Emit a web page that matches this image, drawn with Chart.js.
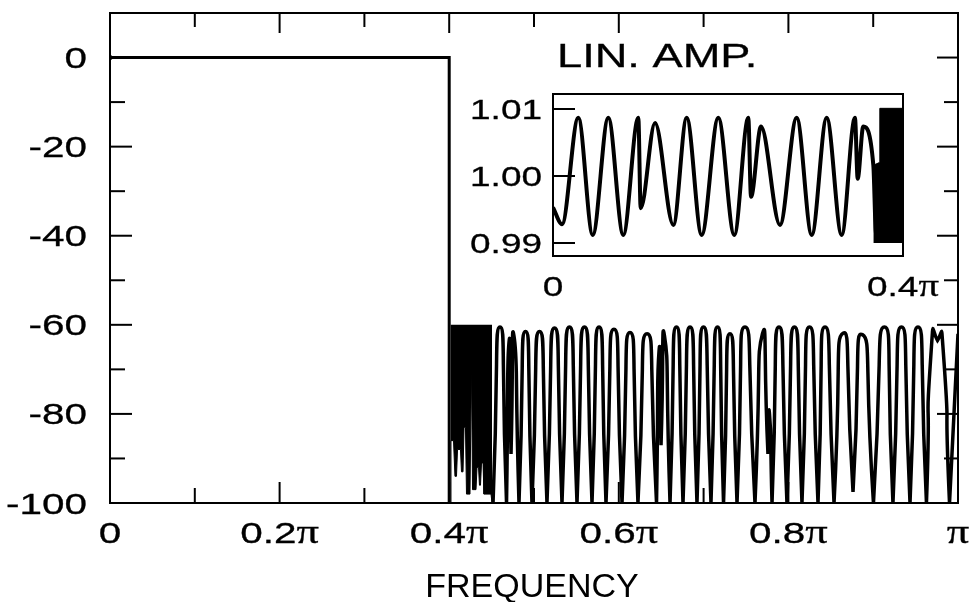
<!DOCTYPE html>
<html>
<head>
<meta charset="utf-8">
<script src="https://cdn.jsdelivr.net/npm/chart.js@4.4.1/dist/chart.umd.min.js"></script>
<style>
  html, body { margin: 0; padding: 0; background: #fff; }
  #wrap { position: relative; width: 972px; height: 602px; }
  #main { position: absolute; left: 0; top: 0; }
  #inset { position: absolute; left: 460px; top: 35px; }
</style>
</head>
<body>
<div id="wrap">
  <canvas id="main" width="972" height="602"></canvas>
  <canvas id="inset" width="490" height="275"></canvas>
</div>
<script>
// frequency is in units of pi everywhere

// passband (dB)
const passFreq = [0, 0.4, 0.4];
const passDb = [0, 0, -100];

// lower edge of the dense black band just past 0.4pi (filled up to -60 dB)
const bandFreq = [0.4015, 0.4021, 0.4051, 0.4068, 0.4086, 0.4098, 0.4133, 0.4145, 0.4163, 0.4175,
    0.4192, 0.4204, 0.4245, 0.4263, 0.4275, 0.4316, 0.4328, 0.4346, 0.4357, 0.4369,
    0.4381, 0.4399, 0.4410, 0.4493, 0.4505];
const bandDb = [-100, -86, -86, -94, -94, -88, -88, -93, -93, -83,
    -83, -98, -98, -68.6, -97, -97, -92, -92, -96, -96,
    -91, -91, -98, -98, -100];

// stopband ripple: nulls and lobe peaks (dB)
const stopFreq = [0.4517, 0.4599, 0.4676, 0.4705, 0.4729, 0.4764, 0.4823, 0.4900, 0.4976, 0.5065,
    0.5153, 0.5242, 0.5330, 0.5418, 0.5507, 0.5595, 0.5684, 0.5767, 0.5849, 0.5943,
    0.6038, 0.6132, 0.6226, 0.6333, 0.6445, 0.6474, 0.6498, 0.6539, 0.6604, 0.6680,
    0.6757, 0.6840, 0.6922, 0.6999, 0.7087, 0.7164, 0.7235, 0.7311, 0.7394, 0.7488,
    0.7606, 0.7694, 0.7759, 0.7777, 0.7807, 0.7889, 0.7983, 0.8071, 0.8160, 0.8249,
    0.8349, 0.8432, 0.8538, 0.8644, 0.8762, 0.8873, 0.9003, 0.9132, 0.9233, 0.9333,
    0.9434, 0.9528, 0.9628, 0.9699, 0.9758, 0.9811, 0.9900, 1.0];
const stopDb = [-100, -60.5, -100, -64, -89, -62.5, -100, -61.5, -100, -61.5,
    -100, -60.7, -100, -60.5, -100, -60.5, -100, -60.5, -100, -61,
    -100, -61.7, -100, -62, -100, -66, -87, -62.5, -100, -60.5,
    -100, -60.5, -100, -60.5, -100, -60.5, -100, -62, -100, -60.5,
    -100, -62, -89, -80, -100, -60.5, -100, -60.5, -100, -60.5,
    -100, -60.5, -100, -61.9, -97.5, -62.2, -100, -60.5, -100, -60.5,
    -100, -60.5, -100, -61.5, -63.5, -62, -100, -62];

// inset: linear amplitude over 0..0.4pi
const linFreq = [0, 0.0103, 0.0289, 0.0454, 0.0632, 0.0803, 0.0975, 0.1002, 0.1166, 0.1375,
    0.1528, 0.1699, 0.1889, 0.2072, 0.2232, 0.2263, 0.2377, 0.2594, 0.2785, 0.2957,
    0.3128, 0.3299, 0.3451, 0.3482, 0.3546, 0.3661, 0.3688, 0.3718];
const linAmp = [0.9953, 0.9928, 1.0087, 0.9912, 1.0087, 0.9912, 1.0087, 0.9952, 1.0079, 0.9927,
    1.0087, 0.9912, 1.0087, 0.9912, 1.0087, 0.9969, 1.0074, 0.9927, 1.0087, 0.9912,
    1.0087, 0.9912, 1.0087, 0.9996, 1.0074, 1.0016, 0.9919, 0.9902];
// solid black band at the band edge (filled down to 0.990)
const linBandFreq = [0.3661, 0.3729, 0.3735, 0.4];
const linBandAmp = [1.0016, 1.0020, 1.0101, 1.0101];

// ticks
const yMajor = [0, -20, -40, -60, -80, -100];
const yMajorLabels = ['0', '-20', '-40', '-60', '-80', '-100'];
const yMinor = [-10, -30, -50, -70, -90];
const xMajor = [0, 0.2, 0.4, 0.6, 0.8, 1];
const xMajorLabels = ['0', '0.2π', '0.4π', '0.6π', '0.8π', 'π'];
const xMinor = [0.1, 0.3, 0.5, 0.7, 0.9];
const insetYTicks = [1.01, 1.00, 0.99];
const insetYLabels = ['1.01', '1.00', '0.99'];
const insetXTicks = [0, 0.4];
const insetXLabels = ['0', '0.4π'];

const SANS = '"Liberation Sans", Arial, sans-serif';
const SERIF = '"Liberation Serif", "DejaVu Serif", serif';

function toPoints(xs, ys) {
    return xs.map((x, i) => ({ x, y: ys[i] }));
}

// nulls are cusps: repeat each local minimum so the curve comes in steeply
function withCusps(xs, ys) {
    const pts = [];
    xs.forEach((x, i) => {
        pts.push({ x, y: ys[i] });
        const prev = ys[i - 1], next = ys[i + 1];
        if ((prev === undefined || ys[i] < prev) && (next === undefined || ys[i] < next)) {
            pts.push({ x, y: ys[i] });
        }
    });
    return pts;
}

// draws a label, horizontally stretched like the original lettering; "π" set in a serif face
function drawLabel(ctx, text, x, baseline, align, size, sx) {
    const parts = text.endsWith('π') ? [[text.slice(0, -1), SANS, size], ['π', SERIF, size * 1.1]] : [[text, SANS, size]];
    let w = 0;
    parts.forEach(p => { ctx.font = p[2] + 'px ' + p[1]; w += ctx.measureText(p[0]).width; });
    w *= sx;
    let left = align === 'right' ? x - w : align === 'center' ? x - w / 2 : x;
    ctx.save();
    ctx.fillStyle = '#000';
    ctx.strokeStyle = '#000';
    ctx.lineWidth = 0.3;
    ctx.textAlign = 'left';
    ctx.textBaseline = 'alphabetic';
    ctx.translate(left, baseline);
    ctx.scale(sx, 1);
    let cx = 0;
    parts.forEach(p => {
        ctx.font = p[2] + 'px ' + p[1];
        ctx.fillText(p[0], cx, 0);
        ctx.strokeText(p[0], cx, 0);
        cx += ctx.measureText(p[0]).width;
    });
    ctx.restore();
}

function line(ctx, x1, y1, x2, y2) {
    ctx.beginPath();
    ctx.moveTo(x1, y1);
    ctx.lineTo(x2, y2);
    ctx.stroke();
}

const mainAxes = {
    id: 'mainAxes',
    afterDatasetsDraw(chart) {
        const { ctx, chartArea: a, scales: { x, y } } = chart;
        ctx.save();
        ctx.strokeStyle = '#000';
        ctx.lineWidth = 2;
        ctx.strokeRect(a.left, a.top, a.right - a.left, a.bottom - a.top);
        yMajor.forEach(v => {
            const py = y.getPixelForValue(v);
            line(ctx, a.left, py, a.left + 22, py);
            line(ctx, a.right, py, a.right - 21, py);
        });
        yMinor.forEach(v => {
            const py = y.getPixelForValue(v);
            line(ctx, a.left, py, a.left + 15, py);
            line(ctx, a.right, py, a.right - 14, py);
        });
        xMajor.forEach(v => {
            const px = x.getPixelForValue(v);
            line(ctx, px, a.bottom, px, a.bottom - 21);
            line(ctx, px, a.top, px, a.top + 20);
        });
        xMinor.forEach(v => {
            const px = x.getPixelForValue(v);
            line(ctx, px, a.bottom, px, a.bottom - 15);
            line(ctx, px, a.top, px, a.top + 14);
        });
        ctx.restore();

        yMajor.forEach((v, i) => drawLabel(ctx, yMajorLabels[i], 87, y.getPixelForValue(v) + 10.5, 'right', 30, 1.35));
        xMajor.forEach((v, i) => drawLabel(ctx, xMajorLabels[i], x.getPixelForValue(v), 543, 'center', 30, 1.35));
        ctx.save();
        ctx.font = '34px ' + SANS;
        ctx.fillStyle = '#000';
        ctx.textAlign = 'center';
        ctx.textBaseline = 'alphabetic';
        ctx.fillText('FREQUENCY', 532, 597);
        ctx.restore();
    }
};

const insetAxes = {
    id: 'insetAxes',
    afterDatasetsDraw(chart) {
        const { ctx, chartArea: a, scales: { x, y } } = chart;
        ctx.save();
        ctx.strokeStyle = '#000';
        ctx.lineWidth = 2;
        ctx.strokeRect(a.left, a.top, a.right - a.left, a.bottom - a.top);
        insetYTicks.forEach(v => {
            const py = y.getPixelForValue(v);
            line(ctx, a.left, py, a.left + 22, py);
        });
        ctx.restore();
        insetYTicks.forEach((v, i) => drawLabel(ctx, insetYLabels[i], a.left - 11, y.getPixelForValue(v) + 10, 'right', 28, 1.32));
        insetXTicks.forEach((v, i) => drawLabel(ctx, insetXLabels[i], x.getPixelForValue(v), 261, 'center', 28, 1.32));
        drawLabel(ctx, 'LIN. AMP.', 97, 32, 'left', 34, 1.33);
    }
};

new Chart(document.getElementById('main'), {
    type: 'line',
    data: {
        datasets: [{
            data: toPoints(passFreq, passDb),
            borderColor: '#000',
            borderWidth: 3,
            pointRadius: [2.5, 0, 0],
            pointBackgroundColor: '#000',
            pointBorderWidth: 0,
            tension: 0
        }, {
            data: toPoints(bandFreq, bandDb),
            borderColor: '#000',
            backgroundColor: '#000',
            borderWidth: 1,
            pointRadius: 0,
            tension: 0,
            fill: { value: -60 }
        }, {
            data: withCusps(stopFreq, stopDb),
            borderColor: '#000',
            borderWidth: 3.5,
            pointRadius: 0,
            tension: 0.85
        }]
    },
    options: {
        responsive: false,
        animation: false,
        events: [],
        layout: { padding: { left: 110, top: 13, right: 14, bottom: 99 } },
        scales: {
            x: { type: 'linear', min: 0, max: 1, display: false },
            y: { type: 'linear', min: -100, max: 10, display: false }
        },
        plugins: { legend: { display: false }, tooltip: { enabled: false } }
    },
    plugins: [mainAxes]
});

new Chart(document.getElementById('inset'), {
    type: 'line',
    data: {
        datasets: [{
            data: toPoints(linFreq, linAmp),
            borderColor: '#000',
            borderWidth: 4,
            pointRadius: 0,
            cubicInterpolationMode: 'monotone'
        }, {
            data: toPoints(linBandFreq, linBandAmp),
            borderColor: '#000',
            backgroundColor: '#000',
            borderWidth: 1,
            pointRadius: 0,
            tension: 0,
            fill: { value: 0.990 }
        }]
    },
    options: {
        responsive: false,
        animation: false,
        events: [],
        layout: { padding: { left: 93, top: 59, right: 47, bottom: 54 } },
        scales: {
            x: { type: 'linear', min: 0, max: 0.4, display: false },
            y: { type: 'linear', min: 0.98806, max: 1.01224, display: false }
        },
        plugins: { legend: { display: false }, tooltip: { enabled: false } }
    },
    plugins: [insetAxes]
});
</script>
</body>
</html>
